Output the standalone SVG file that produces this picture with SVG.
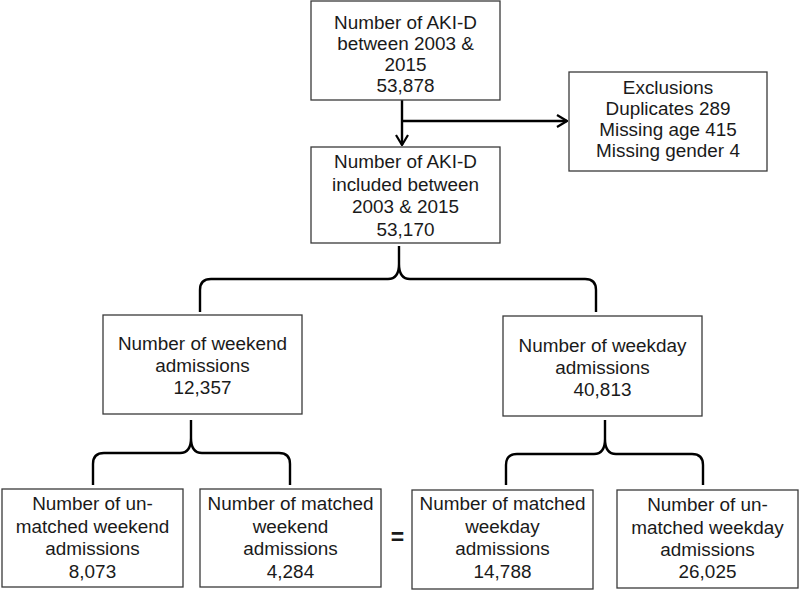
<svg xmlns="http://www.w3.org/2000/svg" width="800" height="592" viewBox="0 0 800 592">
<style>
.box{fill:#fff;stroke:#3a3a3a;stroke-width:1.3}
.t{font-family:"Liberation Sans",Arial,sans-serif;font-size:18.9px;fill:#1a1a1a;text-anchor:middle}
.ln{fill:none;stroke:#000;stroke-width:2.4;stroke-linejoin:round}
</style>
<defs>
<marker id="arr" viewBox="0 0 12 14" refX="11" refY="7" markerWidth="12" markerHeight="14" orient="auto" markerUnits="userSpaceOnUse">
<path d="M1,1 L11,7 L1,13" fill="none" stroke="#000" stroke-width="2.2"/>
</marker>
</defs>
<rect width="800" height="592" fill="#fff"/>
<g id="connectors">
<path class="ln" d="M402,100 L402,145" marker-end="url(#arr)"/>
<path class="ln" d="M402,121 L567,121" marker-end="url(#arr)"/>
<path class="ln" d="M200,312 L200,290 Q200,279 211,279 L388,279 Q399,279 399,264 L399,246 M596,312 L596,290 Q596,279 585,279 L410,279 Q399,279 399,264"/>
<path class="ln" d="M93,485 L93,464 Q93,453 104,453 L180,453 Q191,453 191,438 L191,420 M290,485 L290,464 Q290,453 279,453 L202,453 Q191,453 191,438"/>
<path class="ln" d="M506,485 L506,465 Q506,454 517,454 L594,454 Q605,454 605,439 L605,420 M703,485 L703,465 Q703,454 692,454 L616,454 Q605,454 605,439"/>
</g>
<g id="n_total">
<rect class="box" x="311" y="1" width="189" height="99"/>
<text class="t" x="405.5" y="29">Number of AKI-D</text>
<text class="t" x="405.5" y="50">between 2003 &amp;</text>
<text class="t" x="405.5" y="70.5">2015</text>
<text class="t" x="405.5" y="91.5">53,878</text>
</g>
<g id="n_exclusions">
<rect class="box" x="569" y="72" width="198" height="99"/>
<text class="t" x="668" y="94">Exclusions</text>
<text class="t" x="668" y="115">Duplicates 289</text>
<text class="t" x="668" y="136">Missing age 415</text>
<text class="t" x="668" y="157">Missing gender 4</text>
</g>
<g id="n_included">
<rect class="box" x="311" y="147" width="189" height="96"/>
<text class="t" x="405.5" y="168">Number of AKI-D</text>
<text class="t" x="405.5" y="191">included between</text>
<text class="t" x="405.5" y="213">2003 &amp; 2015</text>
<text class="t" x="405.5" y="235.5">53,170</text>
</g>
<g id="n_weekend">
<rect class="box" x="103" y="315" width="199" height="99"/>
<text class="t" x="202.5" y="350">Number of weekend</text>
<text class="t" x="202.5" y="372">admissions</text>
<text class="t" x="202.5" y="393.5">12,357</text>
</g>
<g id="n_weekday">
<rect class="box" x="503" y="316" width="199" height="100"/>
<text class="t" x="602.5" y="352">Number of weekday</text>
<text class="t" x="602.5" y="374">admissions</text>
<text class="t" x="602.5" y="396">40,813</text>
</g>
<g id="n_unmatched_weekend">
<rect class="box" x="2" y="489" width="181" height="98"/>
<text class="t" x="92.5" y="510">Number of un-</text>
<text class="t" x="92.5" y="533">matched weekend</text>
<text class="t" x="92.5" y="555">admissions</text>
<text class="t" x="92.5" y="578">8,073</text>
</g>
<g id="n_matched_weekend">
<rect class="box" x="200" y="489" width="181" height="98"/>
<text class="t" x="290.5" y="510">Number of matched</text>
<text class="t" x="290.5" y="533">weekend</text>
<text class="t" x="290.5" y="555">admissions</text>
<text class="t" x="290.5" y="578">4,284</text>
</g>
<g id="equals">
<text x="397.5" y="545" font-family="'Liberation Sans',Arial,sans-serif" font-size="23" font-weight="bold" fill="#1a1a1a" text-anchor="middle">=</text>
</g>
<g id="n_matched_weekday">
<rect class="box" x="412" y="490" width="181" height="99"/>
<text class="t" x="502.5" y="510">Number of matched</text>
<text class="t" x="502.5" y="533">weekday</text>
<text class="t" x="502.5" y="555">admissions</text>
<text class="t" x="502.5" y="578">14,788</text>
</g>
<g id="n_unmatched_weekday">
<rect class="box" x="617" y="490" width="181" height="98"/>
<text class="t" x="707.5" y="511">Number of un-</text>
<text class="t" x="707.5" y="534">matched weekday</text>
<text class="t" x="707.5" y="556">admissions</text>
<text class="t" x="707.5" y="578">26,025</text>
</g>
</svg>
